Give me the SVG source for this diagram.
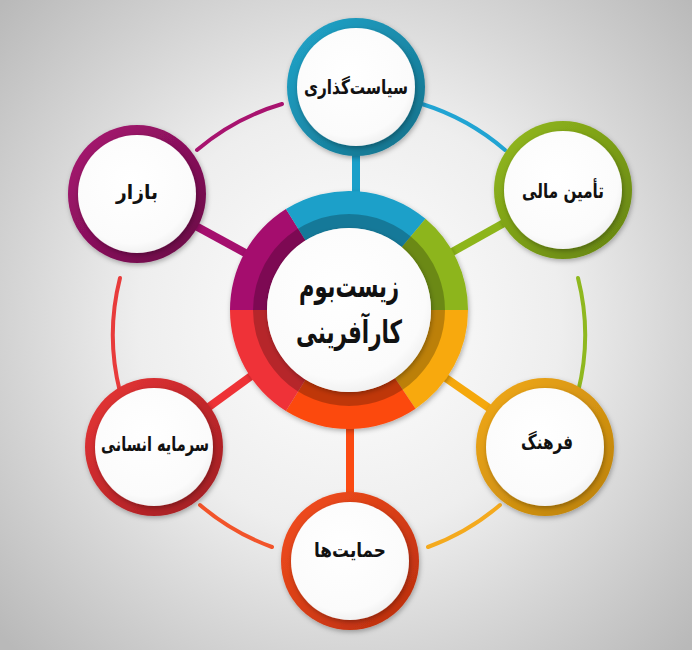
<svg xmlns="http://www.w3.org/2000/svg" width="692" height="650" viewBox="0 0 692 650">
<defs>
<radialGradient id="bg" cx="349" cy="320" r="470" gradientUnits="userSpaceOnUse">
<stop offset="0" stop-color="#ffffff"/>
<stop offset="0.45" stop-color="#eeeeee"/>
<stop offset="1" stop-color="#b9b9b9"/>
</radialGradient>
<radialGradient id="wh" cx="0.45" cy="0.4" r="0.65">
<stop offset="0" stop-color="#ffffff"/>
<stop offset="0.8" stop-color="#fbfbfb"/>
<stop offset="1" stop-color="#ececec"/>
</radialGradient>
<linearGradient id="gBlue" x1="0" y1="0" x2="1" y2="1"><stop offset="0" stop-color="#22a6cc"/><stop offset="1" stop-color="#136f88"/></linearGradient>
<linearGradient id="gGreen" x1="0" y1="0" x2="1" y2="1"><stop offset="0" stop-color="#94bb1e"/><stop offset="1" stop-color="#64820f"/></linearGradient>
<linearGradient id="gOrange" x1="0" y1="0" x2="1" y2="1"><stop offset="0" stop-color="#f3aa1c"/><stop offset="1" stop-color="#b98009"/></linearGradient>
<linearGradient id="gRedOr" x1="0" y1="0" x2="1" y2="1"><stop offset="0" stop-color="#f64f1e"/><stop offset="1" stop-color="#b72c0e"/></linearGradient>
<linearGradient id="gRed" x1="0" y1="0" x2="1" y2="1"><stop offset="0" stop-color="#ea3535"/><stop offset="1" stop-color="#9c1c22"/></linearGradient>
<linearGradient id="gPurple" x1="0" y1="0" x2="1" y2="1"><stop offset="0" stop-color="#ab1673"/><stop offset="1" stop-color="#660b44"/></linearGradient>
<filter id="sh" x="-20%" y="-20%" width="140%" height="140%">
<feDropShadow dx="1" dy="2" stdDeviation="2.5" flood-color="#000" flood-opacity="0.3"/>
</filter>
</defs>
<style>
.lbl{font-family:"DejaVu Sans","Noto Sans",sans-serif;font-weight:bold;fill:#111;text-anchor:middle;font-size:20px}
.ctr{font-size:32px}
.arc{fill:none;stroke-width:4;stroke-linecap:round}
.spoke{stroke-width:8;fill:none}
.inner{fill:url(#wh)}
</style>
<rect width="692" height="650" fill="url(#bg)"/>
<g id="connectors">
<path class="arc" stroke="#a8136f" d="M197,150 A232,232 0 0 1 282,104"/>
<path class="arc" stroke="#21a4d3" d="M422,104 A232,232 0 0 1 505,150"/>
<path class="arc" stroke="#8fb81f" d="M578,278 A232,232 0 0 1 578,392"/>
<path class="arc" stroke="#f4aa1e" d="M500,505 A232,232 0 0 1 428,547"/>
<path class="arc" stroke="#f2542a" d="M272,547 A232,232 0 0 1 200,505"/>
<path class="arc" stroke="#e83b3b" d="M120,392 A232,232 0 0 1 120,278"/>
<line class="spoke" stroke="#1a9fc9" x1="356" y1="150" x2="356" y2="205"/>
<line class="spoke" stroke="#8db51a" x1="563" y1="190" x2="420" y2="270"/>
<line class="spoke" stroke="#f5a80c" x1="545" y1="447" x2="420" y2="360"/>
<line class="spoke" stroke="#fb4a12" x1="350" y1="400" x2="350" y2="500"/>
<line class="spoke" stroke="#ee3236" x1="154" y1="447" x2="280" y2="355"/>
<line class="spoke" stroke="#a50f6e" x1="137" y1="194" x2="280" y2="272"/>
</g>
<g id="center">
<g filter="url(#sh)">
<path fill="#a50f6e" d="M230,310 A119,119 0 0 1 285.94,209.09 L305.55,240.46 A82,82 0 0 0 267,310 Z"/>
<path fill="#1ba0c9" d="M285.94,209.09 A119,119 0 0 1 425.49,218.85 L401.71,247.19 A82,82 0 0 0 305.55,240.46 Z"/>
<path fill="#8db51a" d="M425.49,218.85 A119,119 0 0 1 468,310 L431,310 A82,82 0 0 0 401.71,247.19 Z"/>
<path fill="#f8a90a" d="M468,310 A119,119 0 0 1 415.54,408.65 L394.85,377.98 A82,82 0 0 0 431,310 Z"/>
<path fill="#fc4a0e" d="M415.54,408.65 A119,119 0 0 1 285.94,410.91 L305.55,379.54 A82,82 0 0 0 394.85,377.98 Z"/>
<path fill="#ef3337" d="M285.94,410.91 A119,119 0 0 1 230,310 L267,310 A82,82 0 0 0 305.55,379.54 Z"/>
</g>
<circle cx="349" cy="310" r="89" fill="none" stroke="#000" stroke-opacity="0.24" stroke-width="14"/>
<circle cx="349" cy="310" r="82" class="inner" filter="url(#sh)"/>
<text class="lbl ctr" x="349" y="297" textLength="100" lengthAdjust="spacingAndGlyphs">زیست&#x200C;بوم</text>
<text class="lbl ctr" x="349" y="343" textLength="106" lengthAdjust="spacingAndGlyphs">کارآفرینی</text>
</g>
<g id="siasat">
<circle cx="356" cy="87" r="69" fill="url(#gBlue)" filter="url(#sh)"/>
<circle cx="356" cy="87" r="59" class="inner" filter="url(#sh)"/>
<text class="lbl" x="356" y="94" textLength="104" lengthAdjust="spacingAndGlyphs">سیاست&#x200C;گذاری</text>
</g>
<g id="tamin">
<circle cx="563" cy="190" r="69" fill="url(#gGreen)" filter="url(#sh)"/>
<circle cx="563" cy="190" r="59" class="inner" filter="url(#sh)"/>
<text class="lbl" x="563" y="198" textLength="82" lengthAdjust="spacingAndGlyphs">تأمین مالی</text>
</g>
<g id="farhang">
<circle cx="545" cy="447" r="69" fill="url(#gOrange)" filter="url(#sh)"/>
<circle cx="545" cy="447" r="59" class="inner" filter="url(#sh)"/>
<text class="lbl" x="547" y="449" textLength="52" lengthAdjust="spacingAndGlyphs">فرهنگ</text>
</g>
<g id="hemayat">
<circle cx="350" cy="561" r="69" fill="url(#gRedOr)" filter="url(#sh)"/>
<circle cx="350" cy="561" r="59" class="inner" filter="url(#sh)"/>
<text class="lbl" x="350" y="557" textLength="72" lengthAdjust="spacingAndGlyphs">حمایت&#x200C;ها</text>
</g>
<g id="sarmayeh">
<circle cx="154" cy="447" r="69" fill="url(#gRed)" filter="url(#sh)"/>
<circle cx="154" cy="447" r="59" class="inner" filter="url(#sh)"/>
<text class="lbl" x="155" y="451" textLength="108" lengthAdjust="spacingAndGlyphs">سرمایه انسانی</text>
</g>
<g id="bazar">
<circle cx="137" cy="194" r="69" fill="url(#gPurple)" filter="url(#sh)"/>
<circle cx="137" cy="194" r="59" class="inner" filter="url(#sh)"/>
<text class="lbl" x="137" y="199" textLength="42" lengthAdjust="spacingAndGlyphs">بازار</text>
</g>
</svg>
